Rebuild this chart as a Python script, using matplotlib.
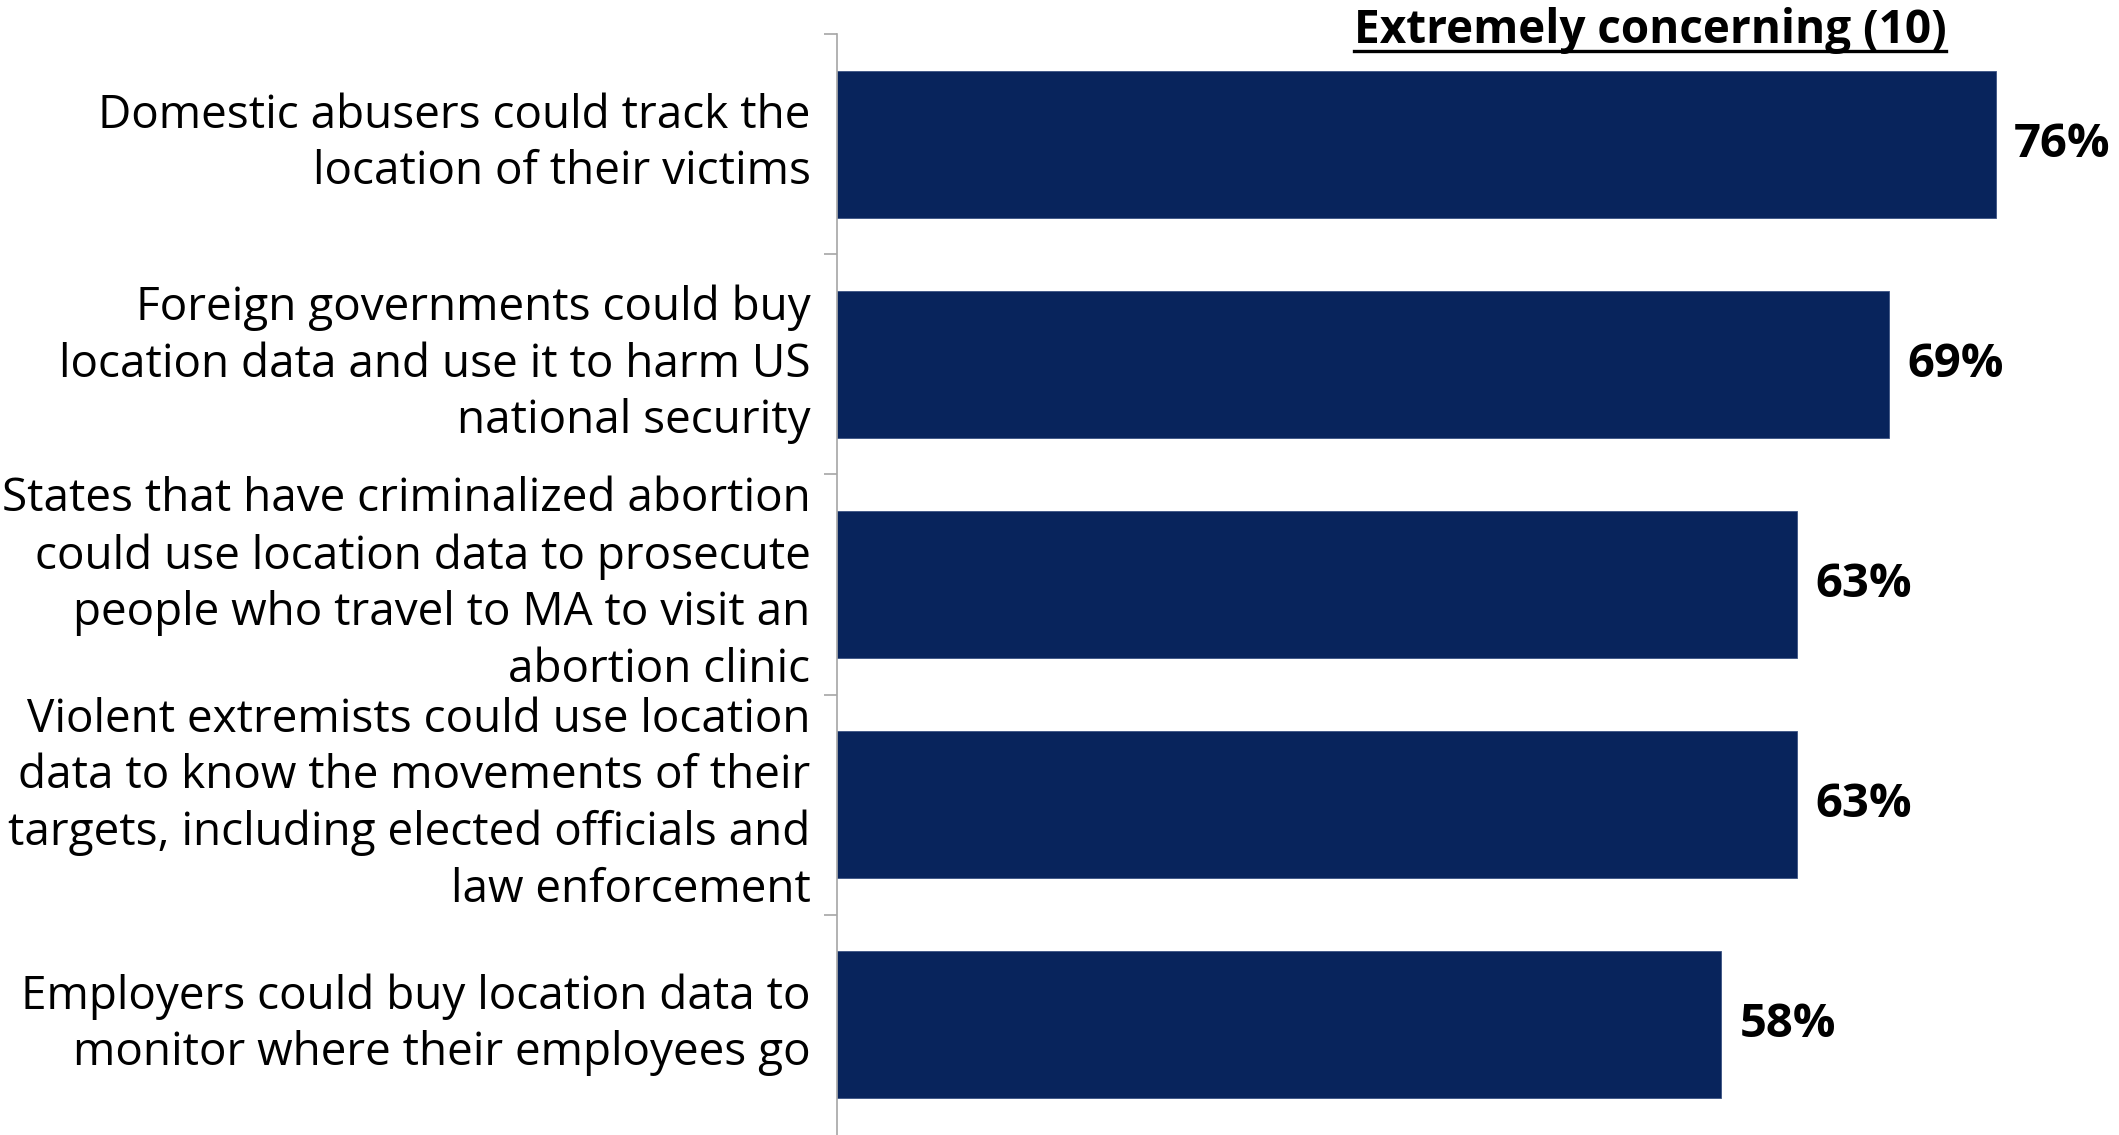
import matplotlib
matplotlib.use('Agg')
import matplotlib.pyplot as plt
from matplotlib.lines import Line2D

plt.rcParams['font.family'] = ['Open Sans', 'DejaVu Sans']

categories = [
    "Domestic abusers could track the\nlocation of their victims",
    "Foreign governments could buy\nlocation data and use it to harm US\nnational security",
    "States that have criminalized abortion\ncould use location data to prosecute\npeople who travel to MA to visit an\nabortion clinic",
    "Violent extremists could use location\ndata to know the movements of their\ntargets, including elected officials and\nlaw enforcement",
    "Employers could buy location data to\nmonitor where their employees go",
]
values = [76, 69, 63, 63, 58]
title = "Extremely concerning (10)"

W, H = 2119, 1135
fig = plt.figure(figsize=(W / 100, H / 100), dpi=100)
left = 837 / W
ax = fig.add_axes([left, 0, 1 - left, 1 - 34 / H])

pos = list(range(len(categories)))
ax.barh(pos, values, height=0.667, color='#08245c', edgecolor='#3b5283', linewidth=0.6)
ax.set_xlim(0, 84.1)
ax.set_ylim(4.5, -0.5)

# labels at bar centres, tick marks between categories
ax.set_yticks(pos)
ax.set_yticklabels(categories, fontsize=33, color='black', linespacing=1.3, va='center')
ax.tick_params(axis='y', which='major', length=0, pad=19)
ax.set_yticks([p - 0.5 for p in pos], minor=True)
ax.tick_params(axis='y', which='minor', length=9.5, width=1.2, color='#a6a6a6')
ax.set_xticks([])

for s in ['top', 'right', 'bottom']:
    ax.spines[s].set_visible(False)
ax.spines['left'].set_color('#a6a6a6')
ax.spines['left'].set_linewidth(1.2)

for p, v in zip(pos, values):
    ax.text(v + 1.2, p, f"{v}%", va='center', ha='left', fontsize=34,
            fontweight='bold', color='black')

# underlined header
t = fig.text(1650 / W, 1 - 30 / H, title, ha='center', va='center',
             fontsize=33, fontweight='bold', color='black')
fig.canvas.draw()
bb = t.get_window_extent()
y_line = (bb.y0 + 3) / H
fig.add_artist(Line2D([bb.x0 / W, bb.x1 / W], [y_line, y_line],
                      color='black', linewidth=2.4, transform=fig.transFigure))

fig.savefig('out.png', dpi=100)
